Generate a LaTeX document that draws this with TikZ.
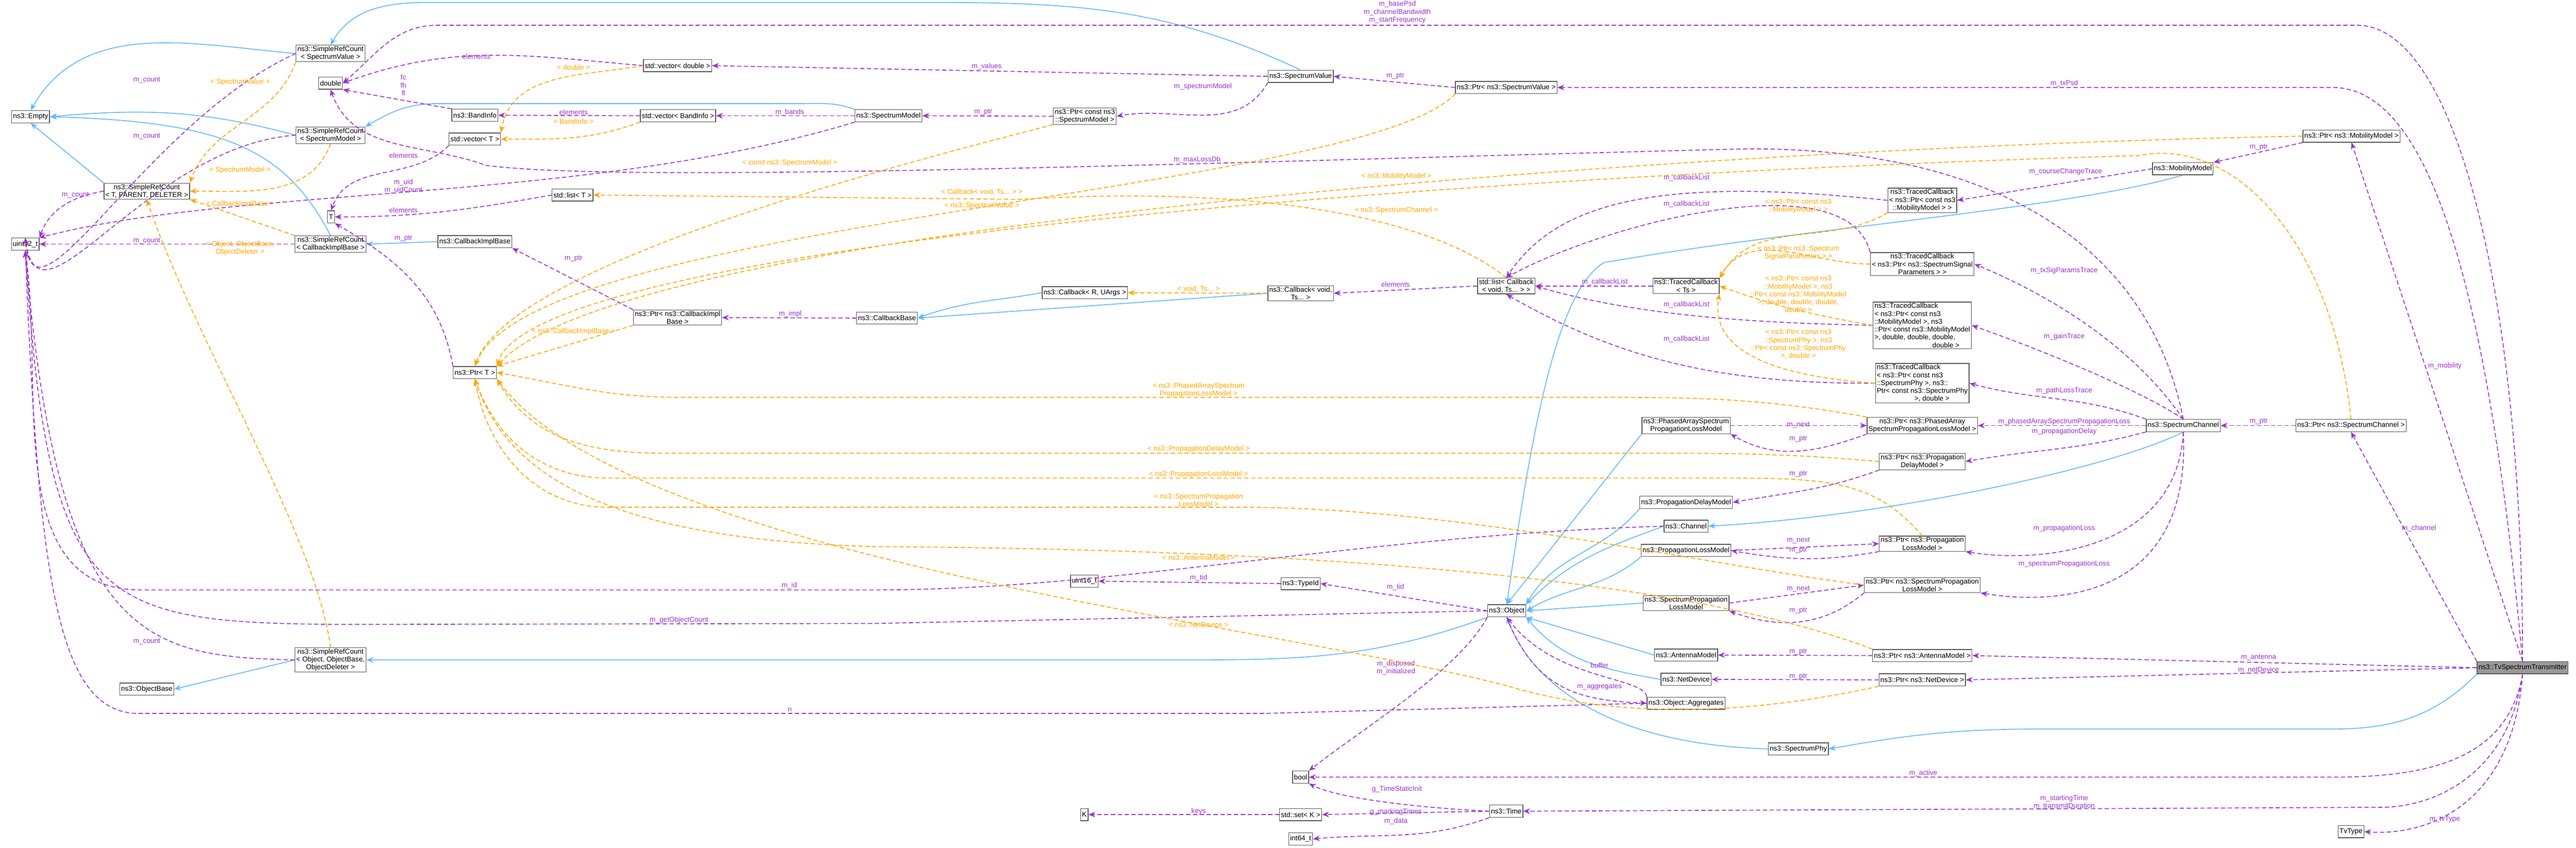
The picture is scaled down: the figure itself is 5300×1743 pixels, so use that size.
\documentclass[tikz,border=0pt]{standalone}
\usepackage{fontspec}
\setmainfont{Liberation Sans}
\usetikzlibrary{arrows.meta}
\definecolor{usecol}{HTML}{9A32CD}
\definecolor{tmplcol}{HTML}{FFA500}
\definecolor{inhcol}{HTML}{63B8FF}
\tikzset{
  cls/.style={draw=black!65,rectangle,inner xsep=0.8pt,inner ysep=0.6pt,minimum height=0.25cm,align=center,font=\fontsize{4.1}{4.6}\selectfont},
  lab/.style={inner sep=0pt,align=center,font=\fontsize{4.1}{4.6}\selectfont},
  inh/.style={inhcol,line width=0.5pt,-{Stealth[length=4pt,width=3.2pt]}},
  use/.style={usecol,line width=0.5pt,dash pattern=on 2.5pt off 1.5pt,-{Stealth[length=4pt,width=3.2pt]}},
  tmpl/.style={tmplcol,line width=0.5pt,dash pattern=on 2.5pt off 1.5pt,-{Stealth[length=4pt,width=3.2pt]}}
}
\begin{document}
\begin{tikzpicture}[x=0.01cm,y=-0.01cm]
\useasboundingbox (0,0) rectangle (5300,1743);
% classes
\node[cls] (empty) at (63,240) {ns3::Empty};
\node[cls] (srcSV) at (680,110) {ns3::SimpleRefCount\\< SpectrumValue >};
\node[cls] (double) at (680,171) {double};
\node[cls] (vecD) at (1394,135) {std::vector< double >};
\node[cls] (bi) at (977,237) {ns3::BandInfo};
\node[cls] (vecBI) at (1395,238) {std::vector< BandInfo >};
\node[cls] (sm) at (1828,238) {ns3::SpectrumModel};
\node[cls] (srcSM) at (680,278) {ns3::SimpleRefCount\\< SpectrumModel >};
\node[cls] (vecT) at (977,286) {std::vector< T >};
\node[cls] (srcTPD) at (302,393) {ns3::SimpleRefCount\\< T, PARENT, DELETER >};
\node[cls] (listT) at (1178,401) {std::list< T >};
\node[cls] (T) at (681,446) {T};
\node[cls] (u32) at (52,502) {uint32\_t};
\node[cls] (srcCB) at (680,502) {ns3::SimpleRefCount\\< CallbackImplBase >};
\node[cls] (cib) at (977,497) {ns3::CallbackImplBase};
\node[cls] (ptrCIB) at (1394,653) {ns3::Ptr< ns3::CallbackImpl\\Base >};
\node[cls] (ptrT) at (977,766) {ns3::Ptr< T >};
\node[cls] (cb) at (1825,654) {ns3::CallbackBase};
\node[cls] (sv) at (2676,157) {ns3::SpectrumValue};
\node[cls] (ptrSV) at (3099,180) {ns3::Ptr< ns3::SpectrumValue >};
\node[cls] (ptrCSM) at (2232,239) {ns3::Ptr< const ns3\\::SpectrumModel >};
\node[cls] (cbRU) at (2232,602) {ns3::Callback< R, UArgs >};
\node[cls] (cbv) at (2676,603) {ns3::Callback< void,\\Ts... >};
\node[cls] (list) at (3099,588) {std::list< Callback\\< void, Ts... > >};
\node[cls] (tcTs) at (3469,588) {ns3::TracedCallback\\< Ts >};
\node[cls] (pa) at (3469,875) {ns3::PhasedArraySpectrum\\PropagationLossModel};
\node[cls] (ptrMM) at (4838,280) {ns3::Ptr< ns3::MobilityModel >};
\node[cls] (mm) at (4491,347) {ns3::MobilityModel};
\node[cls] (tcMob) at (3955,412) {ns3::TracedCallback\\< ns3::Ptr< const ns3\\::MobilityModel > >};
\node[cls] (tcSSP) at (3955,543) {ns3::TracedCallback\\< ns3::Ptr< ns3::SpectrumSignal\\Parameters > >};
\node[cls,align=left] (tcMD) at (3955,669) {ns3::TracedCallback\\< ns3::Ptr< const ns3\\::MobilityModel >, ns3\\::Ptr< const ns3::MobilityModel\\>, double, double, double,\\\hphantom{>, double, double, }double >};
\node[cls,align=left] (tcPhy) at (3955,788) {ns3::TracedCallback\\< ns3::Ptr< const ns3\\::SpectrumPhy >, ns3::\\Ptr< const ns3::SpectrumPhy\\\hphantom{Ptr< const n}>, double >};
\node[cls] (ptrPA) at (3955,875) {ns3::Ptr< ns3::PhasedArray\\SpectrumPropagationLossModel >};
\node[cls] (sc) at (4492,875) {ns3::SpectrumChannel};
\node[cls] (ptrSC) at (4837,875) {ns3::Ptr< ns3::SpectrumChannel >};
\node[cls] (ptrPD) at (3955,949) {ns3::Ptr< ns3::Propagation\\DelayModel >};
\node[cls] (ptrPL) at (3955,1118) {ns3::Ptr< ns3::Propagation\\LossModel >};
\node[cls] (ptrSPL) at (3955,1203) {ns3::Ptr< ns3::SpectrumPropagation\\LossModel >};
\node[cls] (ptrAM) at (3955,1348) {ns3::Ptr< ns3::AntennaModel >};
\node[cls] (ptrND) at (3955,1398) {ns3::Ptr< ns3::NetDevice >};
\node[cls,fill=black!40] (tv) at (5190,1373) {ns3::TvSpectrumTransmitter};
\node[cls] (phy) at (3700,1540) {ns3::SpectrumPhy};
\node[cls] (tvType) at (4837,1710) {TvType};
\node[cls] (pdm) at (3469,1033) {ns3::PropagationDelayModel};
\node[cls] (ch) at (3469,1082) {ns3::Channel};
\node[cls] (plm) at (3469,1132) {ns3::PropagationLossModel};
\node[cls] (splm) at (3469,1240) {ns3::SpectrumPropagation\\LossModel};
\node[cls] (obj) at (3100,1256) {ns3::Object};
\node[cls] (tid) at (2676,1200) {ns3::TypeId};
\node[cls] (u16) at (2231,1195) {uint16\_t};
\node[cls] (am) at (3469,1347) {ns3::AntennaModel};
\node[cls] (nd) at (3469,1397) {ns3::NetDevice};
\node[cls] (agg) at (3469,1446) {ns3::Object::Aggregates};
\node[cls] (bool) at (2676,1598) {bool};
\node[cls] (time) at (3099,1668) {ns3::Time};
\node[cls] (set) at (2676,1675) {std::set< K >};
\node[cls] (K) at (2231,1675) {K};
\node[cls] (i64) at (2676,1725) {int64\_t};
\node[cls] (srcObj) at (680,1357) {ns3::SimpleRefCount\\< Object, ObjectBase,\\ObjectDeleter >};
\node[cls] (objBase) at (302,1417) {ns3::ObjectBase};
% inheritance
\draw[inh] (srcSV.west) to[out=175,in=60] (empty.north);
\draw[inh] (srcSM.west) to[out=165,in=5] (empty.east);
\draw[inh] (srcTPD.north west) -- (empty.south);
\draw[inh] (srcCB.north) .. controls (585,300) and (450,250) .. (empty.east);
\draw[inh] (sv.north) to[out=155,in=0] (1900,5) -- (880,5) to[out=180,in=60] (srcSV.north);
\draw[inh] (sm.north west) to[out=160,in=0] (1650,213) -- (900,213) to[out=180,in=30] (srcSM.north east);
\draw[inh] (cib.west) -- (srcCB.east);
\draw[inh] (cbRU.west) to[out=190,in=20] (cb.east);
\draw[inh] (cbv.west) -- (cb.east);
\draw[inh] (mm.south) .. controls (4250,430) and (3700,470) .. (3300,540) .. controls (3200,600) and (3150,900) .. (obj.north);
\draw[inh] (sc.south) .. controls (4350,960) and (3900,1060) .. (ch.east);
\draw[inh] (pa.south west) -- (obj.north);
\draw[inh] (pdm.south west) to[out=230,in=60] (obj.north east);
\draw[inh] (ch.west) to[out=200,in=45] (obj.north east);
\draw[inh] (plm.south west) to[out=220,in=30] (obj.east);
\draw[inh] (splm.west) -- (obj.east);
\draw[inh] (am.west) -- (obj.south east);
\draw[inh] (nd.west) to[out=170,in=-50] (obj.south east);
\draw[inh] (phy.west) .. controls (3300,1530) and (3150,1400) .. (obj.south);
\draw[inh] (tv.south west) to[out=225,in=0] (4800,1499) -- (4200,1499) to[out=180,in=10] (phy.east);
\draw[inh] (obj.south west) to[out=200,in=0] (2400,1357) -- (srcObj.east);
\draw[inh] (srcObj.west) -- (objBase.east);
% members
\draw[use] (srcSV.west) .. controls (300,250) and (70,700) .. (u32.north) node[lab] at (302,165) {m\_count};
\draw[use] (srcSM.west) .. controls (300,300) and (80,700) .. (u32.north) node[lab] at (302,280) {m\_count};
\draw[use] (srcTPD.west) to[out=190,in=70] (u32.north east) node[lab] at (155,401) {m\_count};
\draw[use] (srcCB.west) -- (u32.east) node[lab] at (302,495) {m\_count};
\draw[use] (srcObj.west) .. controls (300,1350) and (120,1320) .. (u32.south) node[lab] at (302,1319) {m\_count};
\draw[use] (ch.west) .. controls (2800,1100) and (2300,1213) .. (1800,1213) -- (290,1213) to[out=180,in=-82] (u32.south) node[lab] at (1624,1204) {m\_id};
\draw[use] (obj.west) -- (1800,1282) -- (700,1284) .. controls (200,1280) and (100,1250) .. (u32.south) node[lab] at (1397,1275) {m\_getObjectCount};
\draw[use] (agg.west) -- (2600,1467) -- (280,1467) .. controls (120,1460) and (80,1200) .. (u32.south) node[lab] at (1625,1459) {n};
\draw[use] (vecD.west) to[out=175,in=20] (double.east) node[lab] at (980,116) {elements};
\draw[use] (bi.north west) -- (double.south east) node[lab] at (830,175) {fc\\fh\\fl};
\draw[use] (vecBI.west) -- (bi.east) node[lab] at (1180,231) {elements};
\draw[use] (sm.west) -- (vecBI.east) node[lab] at (1625,231) {m\_bands};
\draw[use] (sm.south west) .. controls (1200,420) and (500,380) .. (u32.north east) node[lab] at (830,383) {m\_uid\\m\_uidCount};
\draw[use] (vecT.south west) to[out=225,in=70] (T.north) node[lab] at (830,320) {elements};
\draw[use] (listT.west) to[out=190,in=0] (T.east) node[lab] at (830,432) {elements};
\draw[use] (ptrT.north west) to[out=100,in=-30] (T.south east) node[lab] at (830,490) {m\_ptr};
\draw[use] (ptrCIB.north west) -- (cib.south east) node[lab] at (1180,532) {m\_ptr};
\draw[use] (cb.west) -- (ptrCIB.east) node[lab] at (1626,645) {m\_impl};
\draw[use] (sv.west) -- (vecD.east) node[lab] at (2030,137) {m\_values};
\draw[use] (sv.south west) to[out=240,in=10] (ptrCSM.east) node[lab] at (2475,178) {m\_spectrumModel};
\draw[use] (ptrCSM.west) -- (sm.east) node[lab] at (2023,231) {m\_ptr};
\draw[use] (ptrSV.west) -- (sv.east) node[lab] at (2871,156) {m\_ptr};
\draw[use] (tv.north) .. controls (5120,600) and (5000,180) .. (4800,180) -- (ptrSV.east) node[lab] at (4247,172) {m\_txPsd};
\draw[use] (tv.north) .. controls (5190,600) and (5050,52) .. (4850,52) -- (900,52) to[out=180,in=40] (double.east) node[lab] at (2875,25) {m\_basePsd\\m\_channelBandwidth\\m\_startFrequency};
\draw[use] (sc.north) .. controls (4420,500) and (4100,306) .. (3600,306) .. controls (2600,330) and (1300,380) .. (1000,340) to[out=160,in=-70] (double.south) node[lab] at (2463,328) {m\_maxLossDb};
\draw[use] (list.west) -- (cbv.east) node[lab] at (2871,585) {elements};
\draw[use] (tcTs.west) -- (list.east) node[lab] at (3302,580) {m\_callbackList};
\draw[use] (tcMob.west) .. controls (3400,360) and (3200,420) .. (list.north) node[lab] at (3470,366) {m\_callbackList};
\draw[use] (tcSSP.north west) .. controls (3800,330) and (3300,460) .. (list.north) node[lab] at (3470,420) {m\_callbackList};
\draw[use] (tcMD.west) .. controls (3700,665) and (3400,660) .. (list.east) node[lab] at (3470,626) {m\_callbackList};
\draw[use] (tcPhy.west) .. controls (3500,790) and (3300,720) .. (list.south) node[lab] at (3470,697) {m\_callbackList};
\draw[use] (mm.west) -- (tcMob.east) node[lab] at (4250,353) {m\_courseChangeTrace};
\draw[use] (ptrMM.south west) -- (mm.north east) node[lab] at (4647,303) {m\_ptr};
\draw[use] (tv.north) -- (ptrMM.south) node[lab] at (5030,753) {m\_mobility};
\draw[use] (sc.north) .. controls (4380,700) and (4200,600) .. (tcSSP.east) node[lab] at (4247,556) {m\_txSigParamsTrace};
\draw[use] (sc.north) .. controls (4400,800) and (4200,720) .. (tcMD.east) node[lab] at (4247,692) {m\_gainTrace};
\draw[use] (sc.north west) to[out=160,in=-15] (tcPhy.east) node[lab] at (4247,803) {m\_pathLossTrace};
\draw[use] (sc.west) -- (ptrPA.east) node[lab] at (4247,867) {m\_phasedArraySpectrumPropagationLoss};
\draw[use] (sc.south west) to[out=195,in=10] (ptrPD.east) node[lab] at (4247,887) {m\_propagationDelay};
\draw[use] (sc.south) .. controls (4480,1130) and (4200,1160) .. (ptrPL.south east) node[lab] at (4247,1087) {m\_propagationLoss};
\draw[use] (sc.south) .. controls (4510,1250) and (4200,1240) .. (ptrSPL.south east) node[lab] at (4247,1160) {m\_spectrumPropagationLoss};
\draw[use] (ptrSC.west) -- (sc.east) node[lab] at (4647,867) {m\_ptr};
\draw[use] (tv.north west) -- (ptrSC.south) node[lab] at (4977,1086) {m\_channel};
\draw[use] (pa.east) -- (ptrPA.west) node[lab] at (3700,874) {m\_next};
\draw[use] (ptrPA.south west) to[out=200,in=-30] (pa.south east) node[lab] at (3700,903) {m\_ptr};
\draw[use] (ptrPD.south west) to[out=200,in=10] (pdm.east) node[lab] at (3700,975) {m\_ptr};
\draw[use] (plm.east) -- (ptrPL.west) node[lab] at (3700,1111) {m\_next};
\draw[use] (ptrPL.south west) to[out=190,in=-10] (plm.east) node[lab] at (3700,1132) {m\_ptr};
\draw[use] (splm.east) -- (ptrSPL.west) node[lab] at (3700,1211) {m\_next};
\draw[use] (ptrSPL.south west) to[out=220,in=-20] (splm.south east) node[lab] at (3700,1256) {m\_ptr};
\draw[use] (ptrAM.west) -- (am.east) node[lab] at (3700,1340) {m\_ptr};
\draw[use] (tv.west) -- (ptrAM.east) node[lab] at (4647,1352) {m\_antenna};
\draw[use] (ptrND.west) -- (nd.east) node[lab] at (3700,1391) {m\_ptr};
\draw[use] (tv.west) -- (ptrND.east) node[lab] at (4647,1378) {m\_netDevice};
\draw[use] (obj.west) -- (tid.east) node[lab] at (2871,1207) {m\_tid};
\draw[use] (tid.west) -- (u16.east) node[lab] at (2466,1188) {m\_tid};
\draw[use] (obj.south west) .. controls (3000,1380) and (2800,1500) .. (bool.north east) node[lab] at (2872,1373) {m\_disposed\\m\_initialized};
\draw[use] (agg.north west) .. controls (3380,1390) and (3200,1400) .. (obj.south) node[lab] at (3291,1368) {buffer};
\draw[use] (obj.south) .. controls (3160,1420) and (3250,1440) .. (agg.west) node[lab] at (3291,1412) {m\_aggregates};
\draw[use] (tv.south) .. controls (5160,1560) and (5000,1598) .. (4800,1598) -- (bool.east) node[lab] at (3957,1590) {m\_active};
\draw[use] (time.west) .. controls (2900,1660) and (2750,1640) .. (bool.south east) node[lab] at (2874,1623) {g\_TimeStaticInit};
\draw[use] (time.west) -- (set.east) node[lab] at (2872,1669) {g\_markingTimes};
\draw[use] (set.west) -- (K.east) node[lab] at (2466,1668) {keys};
\draw[use] (time.south west) to[out=200,in=5] (i64.east) node[lab] at (2872,1689) {m\_data};
\draw[use] (tv.south) .. controls (5160,1600) and (5000,1660) .. (4900,1660) -- (time.east) node[lab] at (4247,1650) {m\_startingTime\\m\_transmitDuration};
\draw[use] (tv.south) .. controls (5170,1650) and (5000,1720) .. (tvType.east) node[lab] at (5030,1685) {m\_tvType};
% template instances
\draw[tmpl] (srcSV.south west) to[out=250,in=70] (srcTPD.north east) node[lab] at (494,169) {< SpectrumValue >};
\draw[tmpl] (srcSM.south) to[out=250,in=0] (srcTPD.east) node[lab] at (494,350) {< SpectrumModel >};
\draw[tmpl] (srcCB.north west) -- (srcTPD.south east) node[lab] at (494,420) {< CallbackImplBase >};
\draw[tmpl] (srcObj.north) .. controls (650,1100) and (400,700) .. (srcTPD.south) node[lab] at (494,510) {< Object, ObjectBase,\\ObjectDeleter >};
\draw[tmpl] (vecD.west) to[out=190,in=80] (vecT.north east) node[lab] at (1180,139) {< double >};
\draw[tmpl] (vecBI.south west) to[out=200,in=0] (vecT.east) node[lab] at (1180,250) {< BandInfo >};
\draw[tmpl] (ptrCSM.south west) .. controls (1800,350) and (1050,550) .. (ptrT.north) node[lab] at (1625,335) {< const ns3::SpectrumModel >};
\draw[tmpl] (ptrSV.south west) .. controls (2800,400) and (1100,450) .. (ptrT.north) node[lab] at (2020,423) {< ns3::SpectrumValue >};
\draw[tmpl] (ptrCIB.south west) -- (ptrT.north east) node[lab] at (1180,682) {< ns3::CallbackImplBase >};
\draw[tmpl] (list.north) .. controls (2950,450) and (2600,380) .. (2100,410) -- (listT.east) node[lab] at (2020,395) {< Callback< void, Ts... > >};
\draw[tmpl] (cbv.west) -- (cbRU.east) node[lab] at (2466,594) {< void, Ts... >};
\draw[tmpl] (ptrMM.west) .. controls (3600,300) and (1300,450) .. (ptrT.north east) node[lab] at (2873,363) {< ns3::MobilityModel >};
\draw[tmpl] (ptrSC.north) .. controls (4800,500) and (4600,280) .. (4400,320) .. controls (3000,360) and (1100,500) .. (ptrT.north east) node[lab] at (2873,432) {< ns3::SpectrumChannel >};
\draw[tmpl] (ptrPA.north west) to[out=170,in=0] (3300,817) -- (1400,817) to[out=180,in=-10] (ptrT.east) node[lab] at (2466,802) {< ns3::PhasedArraySpectrum\\PropagationLossModel >};
\draw[tmpl] (ptrPD.west) to[out=175,in=0] (3400,932) -- (1370,932) to[out=180,in=-60] (ptrT.south east) node[lab] at (2466,923) {< ns3::PropagationDelayModel >};
\draw[tmpl] (ptrPL.north) .. controls (3850,980) and (3750,983) .. (3500,983) -- (1250,983) to[out=180,in=-70] (ptrT.south) node[lab] at (2466,975) {< ns3::PropagationLossModel >};
\draw[tmpl] (ptrSPL.west) .. controls (3500,1160) and (3000,1043) .. (2550,1043) -- (1250,1043) to[out=180,in=-80] (ptrT.south) node[lab] at (2466,1028) {< ns3::SpectrumPropagation\\LossModel >};
\draw[tmpl] (ptrAM.north west) .. controls (3500,1200) and (2800,1130) .. (1800,1124) .. controls (1300,1110) and (1050,1000) .. (ptrT.south) node[lab] at (2466,1147) {< ns3::AntennaModel >};
\draw[tmpl] (ptrND.south west) .. controls (3550,1480) and (3300,1470) .. (3100,1410) .. controls (2600,1280) and (1300,1150) .. (ptrT.south east) node[lab] at (2466,1284) {< ns3::NetDevice >};
\draw[tmpl] (tcMob.south west) to[out=210,in=60] (tcTs.north east) node[lab] at (3700,424) {< ns3::Ptr< const ns3\\::MobilityModel > >};
\draw[tmpl] (tcSSP.west) to[out=180,in=60] (tcTs.north east) node[lab] at (3700,520) {< ns3::Ptr< ns3::Spectrum\\SignalParameters > >};
\draw[tmpl] (tcMD.west) to[out=170,in=-20] (tcTs.east) node[lab] at (3700,605) {< ns3::Ptr< const ns3\\::MobilityModel >, ns3\\::Ptr< const ns3::MobilityModel\\>, double, double, double,\\double >};
\draw[tmpl] (tcPhy.west) .. controls (3600,770) and (3520,700) .. (tcTs.south east) node[lab] at (3700,708) {< ns3::Ptr< const ns3\\::SpectrumPhy >, ns3\\::Ptr< const ns3::SpectrumPhy\\>, double >};
\end{tikzpicture}
\end{document}
